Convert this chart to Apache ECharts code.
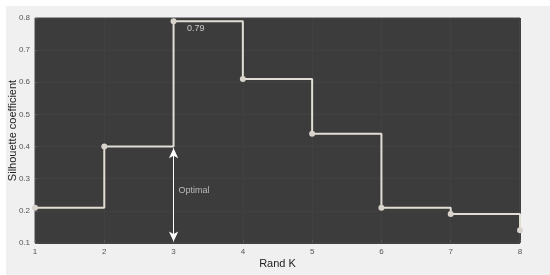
<!DOCTYPE html>
<html><head><meta charset="utf-8">
<script src="https://cdn.jsdelivr.net/npm/echarts@6/dist/echarts.min.js"></script>
<style>html,body{margin:0;padding:0;background:#fff}#c{width:550px;height:275px}</style>
</head><body><div id="c"></div>
<script>
const kValues = [1, 2, 3, 4, 5, 6, 7, 8];
const silhouette = [0.21, 0.40, 0.79, 0.61, 0.44, 0.21, 0.19, 0.14];
const yTicks = [0.1, 0.2, 0.3, 0.4, 0.5, 0.6, 0.7, 0.8];
const optimalK = 3;
const optimalValue = 0.79;

const chart = echarts.init(document.getElementById('c'), null, {renderer: 'canvas'});
const lineColor = '#e2ded6';
chart.setOption({
  backgroundColor: '#f0f0f0',
  animation: false,
  graphic: [{
    type: 'rect', left: 0, top: 0, shape: {width: 550, height: 275},
    style: {fill: 'none', stroke: '#ffffff', lineWidth: 6}, silent: true
  }],
  grid: {left: 35, right: 30, top: 18, bottom: 32, containLabel: false, outerBoundsMode: 'none',
    show: true, backgroundColor: '#3c3c3c', borderColor: '#4a4a4a', borderWidth: 1},
  xAxis: {
    type: 'value', min: 1, max: 8, interval: 1,
    name: 'Rand K', nameLocation: 'middle', nameGap: 15, nameMoveOverlap: false,
    nameTextStyle: {fontFamily: 'Liberation Sans', fontSize: 11, color: '#222'},
    axisLine: {show: false},
    axisTick: {show: true, inside: true, length: 3, lineStyle: {color: '#555'}},
    axisLabel: {fontFamily: 'Liberation Sans', fontSize: 8, color: '#555', margin: 5},
    splitLine: {show: true, lineStyle: {color: '#414141', width: 1}}
  },
  yAxis: {
    type: 'value', min: 0.1, max: 0.8, interval: 0.1,
    name: 'Silhouette coefficient', nameLocation: 'middle', nameGap: 17, nameMoveOverlap: false,
    nameTextStyle: {fontFamily: 'Liberation Sans', fontSize: 11, color: '#222'},
    axisLine: {show: false},
    axisTick: {show: true, inside: true, length: 3, lineStyle: {color: '#555'}},
    axisLabel: {fontFamily: 'Liberation Sans', fontSize: 8, color: '#555', margin: 5,
      formatter: v => { const t = yTicks.find(x => Math.abs(x - v) < 1e-6); return t !== undefined ? String(t) : ''; }},
    splitLine: {show: true, lineStyle: {color: '#414141', width: 1}}
  },
  series: [{
    type: 'line', step: 'end',
    data: kValues.map((k, i) => [k, silhouette[i]]),
    lineStyle: {color: lineColor, width: 2},
    itemStyle: {color: '#d8d4cc'},
    symbol: 'circle', symbolSize: 6, showSymbol: true,
    clip: false,
    markLine: {
      silent: true, symbol: ['arrow', 'arrow'], symbolSize: [7, 10],
      lineStyle: {color: '#ffffff', width: 1, type: 'solid'},
      label: {show: false},
      data: [[{coord: [optimalK, silhouette[kValues.indexOf(optimalK) - 1] - 0.005]}, {coord: [optimalK, 0.105]}]]
    }
  }, {
    type: 'scatter', symbolSize: 0, silent: true,
    data: [
      {value: [3.12, 0.768], label: {show: true, formatter: String(optimalValue), position: 'right', color: '#e8e8e8', fontSize: 9, fontFamily: 'Liberation Sans'}},
      {value: [3.0, 0.262], label: {show: true, formatter: 'Optimal', position: 'right', color: '#d8d8d8', fontSize: 9, fontFamily: 'Liberation Sans'}}
    ]
  }]
});
</script></body></html>
